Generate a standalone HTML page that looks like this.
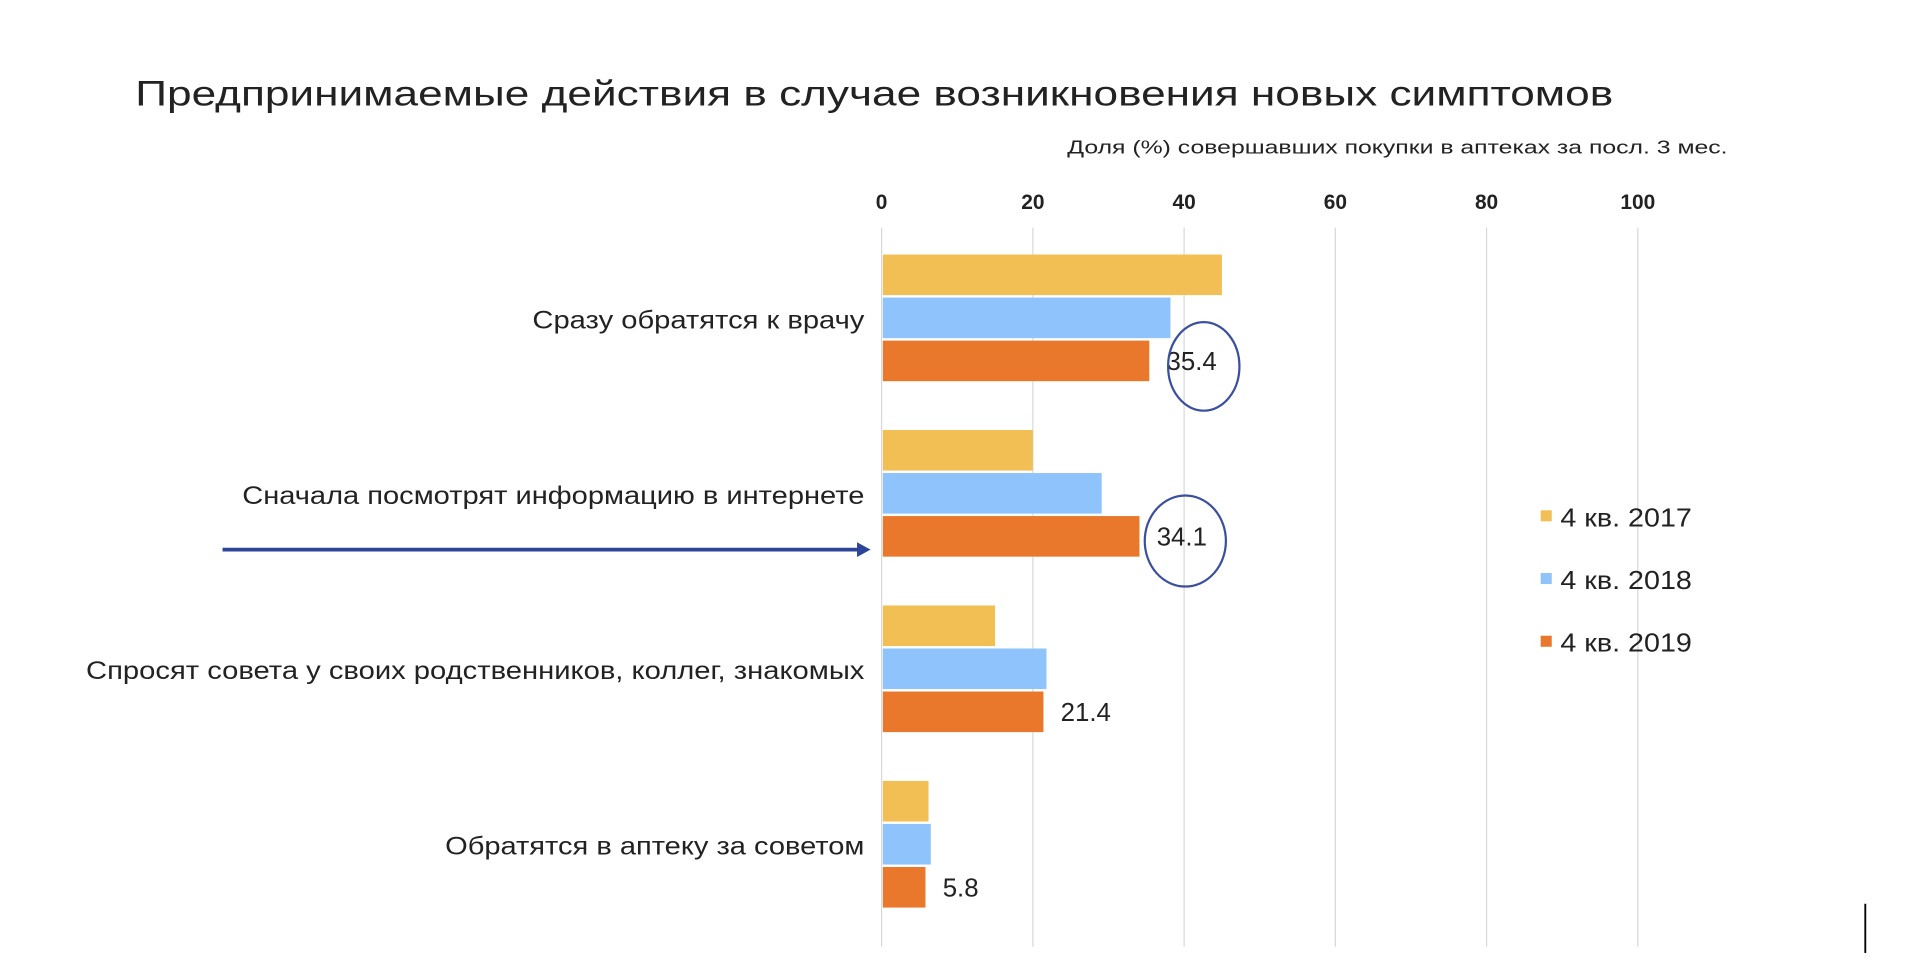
<!DOCTYPE html>
<html><head><meta charset="utf-8"><style>
html,body{margin:0;padding:0;background:#fff;width:1928px;height:980px;overflow:hidden}
svg{display:block;font-family:"Liberation Sans",Arial,sans-serif}
</style></head><body>
<svg id="chart" width="1928" height="980" viewBox="0 0 1568 797" xmlns="http://www.w3.org/2000/svg">
<text x="110" y="86" font-size="29" fill="#222" textLength="1202" lengthAdjust="spacingAndGlyphs">Предпринимаемые действия в случае возникновения новых симптомов</text>
<text x="868" y="125" font-size="15" fill="#222" textLength="537" lengthAdjust="spacingAndGlyphs">Доля (%) совершавших покупки в аптеках за посл. 3 мес.</text>
<g id="grid"></g><g id="bars"></g><g id="labels"></g>
<ellipse cx="979" cy="298" rx="29" ry="36" fill="none" stroke="#3a4fa0" stroke-width="1.8"/>
<ellipse cx="964" cy="440" rx="33" ry="37" fill="none" stroke="#3a4fa0" stroke-width="1.8"/>
<g>
<line x1="181" y1="447" x2="700" y2="447" stroke="#2e4597" stroke-width="3"/>
<polygon points="697,441 708,447 697,453" fill="#2e4597"/>
</g>
<g id="legend"></g>
<line x1="1517" y1="735" x2="1517" y2="775" stroke="#000" stroke-width="1.5"/>
</svg>
<script>
const categories=["Сразу обратятся к врачу","Сначала посмотрят информацию в интернете","Спросят совета у своих родственников, коллег, знакомых","Обратятся в аптеку за советом"];
const catWidths=[270,506,633,341];
const seriesNames=["4 кв. 2017","4 кв. 2018","4 кв. 2019"];
const s2017=[45,20,15,6.2];
const s2018=[38.2,29.1,21.8,6.5];
const s2019=[35.4,34.1,21.4,5.8];
const ticks=[0,20,40,60,80,100];
const colors=["#f2bf55","#8fc3fb","#ea782c"];
const NS="http://www.w3.org/2000/svg";
const x=v=>717+v*6.15;
const groupY=i=>207+i*142.7;
function mk(t,a,p){const e=document.createElementNS(NS,t);for(const k in a)e.setAttribute(k,a[k]);p.appendChild(e);return e;}
const grid=document.getElementById('grid');
ticks.forEach(t=>{
 const l=mk('line',{x1:x(t),x2:x(t),y1:185,y2:770,stroke:'#d9d9d9','stroke-width':1},grid);
 
 
 const tx=mk('text',{x:x(t),y:170,'font-size':17,'font-weight':'bold','text-anchor':'middle',fill:'#222'},grid);
 tx.textContent=t;
 
 
});
const bars=document.getElementById('bars'),labels=document.getElementById('labels');
const series=[s2017,s2018,s2019];
categories.forEach((c,i)=>{
 const y0=groupY(i);
 series.forEach((s,j)=>{
  const r=mk('rect',{x:x(0)+1,y:y0+j*35,width:x(s[i])-x(0)-1,height:33,fill:colors[j]},bars);
  
  
 });
 const v=mk('text',{x:x(s2019[i])+14,y:y0+2*35+24,'font-size':21,fill:'#222'},labels);
 v.textContent=s2019[i].toFixed(1);
 
 
 const cl=mk('text',{x:703-catWidths[i],y:y0+35+25,'font-size':20,fill:'#222',textLength:catWidths[i],lengthAdjust:'spacingAndGlyphs'},labels);
 cl.textContent=c;
 
 
});
const lg=document.getElementById('legend');
seriesNames.forEach((n,j)=>{
 const y=428+j*51;
 const sq=mk('rect',{x:1253,y:y-13,width:9,height:9,fill:colors[j]},lg);
 
 
 const t=mk('text',{x:1269,y:y,'font-size':21,fill:'#222',textLength:107,lengthAdjust:'spacingAndGlyphs'},lg);
 t.textContent=n;
 
 
});
</script>
</body></html>
